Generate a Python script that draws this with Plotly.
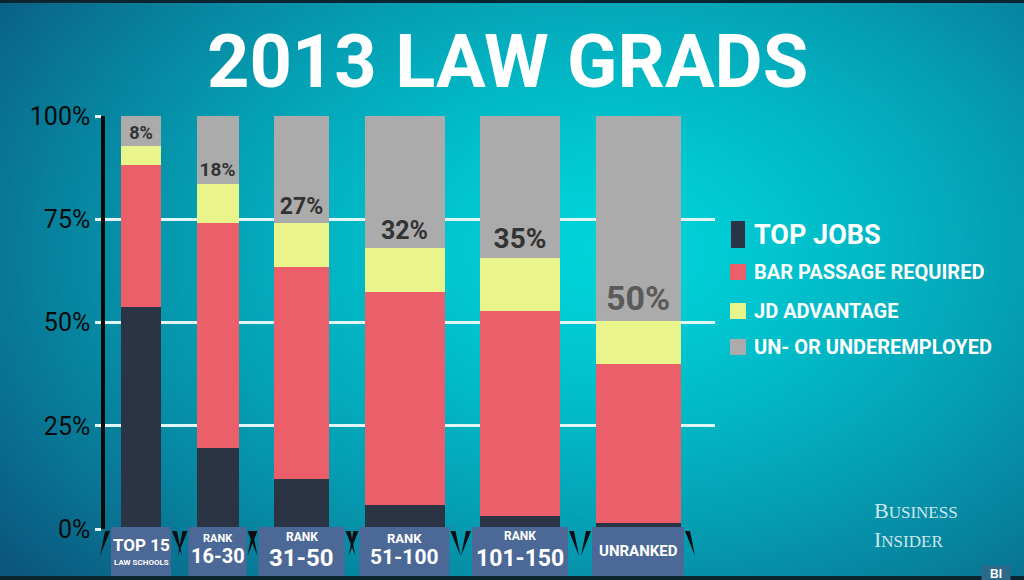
import base64, struct, zlib
import numpy as np
import plotly.graph_objects as go

# ---------------- data ----------------
categories = ["TOP 15", "RANK 16-30", "RANK 31-50", "RANK 51-100", "RANK 101-150", "UNRANKED"]
label_line1 = ["TOP 15", "RANK", "RANK", "RANK", "RANK", "UNRANKED"]
label_line2 = ["LAW SCHOOLS", "16-30", "31-50", "51-100", "101-150", ""]
series_names = ["TOP JOBS", "BAR PASSAGE REQUIRED", "JD ADVANTAGE", "UN- OR UNDEREMPLOYED"]
top_jobs = [53.7, 19.6, 12.1, 5.8, 3.1, 1.5]
bar_passage = [34.4, 54.5, 51.3, 51.6, 49.7, 38.5]
jd_advantage = [4.6, 9.4, 10.7, 10.6, 12.8, 10.4]
un_underemployed = [7.3, 16.5, 25.9, 32.0, 34.4, 49.6]
un_labels = ["8%", "18%", "27%", "32%", "35%", "50%"]
y_ticks = [0, 25, 50, 75, 100]
y_tick_text = ["0%", "25%", "50%", "75%", "100%"]

# ---------------- styles / layout ----------------
W, H = 1024, 580
ML, MR, MT, MB = 105, 309, 116, 51
PW, PH = W - ML - MR, H - MT - MB
series_colors = ["#2b3444", "#eb5f6a", "#e9f58a", "#ababab"]
bar_widths = [40, 42, 55, 80, 80, 85]      # bar widths in x-axis units
bar_gap = 35.5
x_start = 16
label_sizes = [18, 19, 23, 25, 28, 34]
label_colors = ["#333333"] * 5 + ["#5a5a5a"]
box_widths = [60, 58, 86, 90, 96, 92]
l1_sizes = [17, 11, 12, 13, 12, 15]
l2_sizes = [8, 20, 24, 21, 23, 0]
l1_ypx = [545, 538, 537, 538, 536, 551]
l2_ypx = [562, 556, 558, 557, 558, 0]
FONT = "Roboto, Liberation Sans, sans-serif"

# bar centres follow from the widths and a constant gap (equal spacing between bars)
centers = []
pos = x_start
for w in bar_widths:
    centers.append(pos + w / 2)
    pos += w + bar_gap

# ---------------- background gradient (PNG data URI) ----------------
def make_png(arr):
    h, w, _ = arr.shape
    raw = b"".join(b"\x00" + arr[r].tobytes() for r in range(h))
    def chunk(t, d):
        c = struct.pack(">I", len(d)) + t + d
        return c + struct.pack(">I", zlib.crc32(t + d) & 0xFFFFFFFF)
    return (b"\x89PNG\r\n\x1a\n" + chunk(b"IHDR", struct.pack(">IIBBBBB", w, h, 8, 2, 0, 0, 0))
            + chunk(b"IDAT", zlib.compress(raw, 9)) + chunk(b"IEND", b""))

gw, gh = 256, 145
xs = np.linspace(0, W, gw)[None, :]
ys = np.linspace(0, H, gh)[:, None]
d = np.sqrt(((xs - 610) / 660.0) ** 2 + ((ys - 250) / 450.0) ** 2)
t = np.clip(d, 0, 1.15) ** 1.4
inner = np.array([0, 212, 218], float)
outer = np.array([10, 110, 143], float)
img = inner[None, None, :] * (1 - t[..., None]) + outer[None, None, :] * t[..., None]
img = np.clip(img, 0, 255).astype(np.uint8)
bg_uri = "data:image/png;base64," + base64.b64encode(make_png(img)).decode()

# ---------------- figure ----------------
fig = go.Figure()
values = [top_jobs, bar_passage, jd_advantage, un_underemployed]
for k, (nm, vals, col) in enumerate(zip(series_names, values, series_colors)):
    kw = {}
    if k == 3:
        kw = dict(text=un_labels, textposition="inside", insidetextanchor="start",
                  textangle=0, constraintext="none",
                  textfont=dict(family=FONT, size=label_sizes, color=label_colors, weight="bold"))
    fig.add_trace(go.Bar(x=centers, y=vals, width=bar_widths, name=nm,
                         marker=dict(color=col, line=dict(width=0)),
                         customdata=categories, hovertemplate="%{customdata}: %{y}%<extra>" + nm + "</extra>",
                         **kw))

def px_x(p):
    return (p - ML) / PW

def px_y(p):
    return (H - MB - p) / PH

def data_to_px(xv):
    return ML + xv / PW * PW

annotations = []
shapes = []
# title
annotations.append(dict(text="2013 LAW GRADS", xref="paper", yref="paper",
                        x=px_x(507), y=px_y(62), xanchor="center", yanchor="middle",
                        showarrow=False, font=dict(family=FONT, size=74, color="white", weight="bold")))

# category label boxes (rect + one or two text lines)
box_l = [data_to_px(c) - bw / 2 for c, bw in zip(centers, box_widths)]
box_r = [data_to_px(c) + bw / 2 for c, bw in zip(centers, box_widths)]
for i, c in enumerate(categories):
    shapes.append(dict(type="rect", xref="paper", yref="paper", x0=px_x(box_l[i]), x1=px_x(box_r[i]),
                       y0=px_y(576), y1=px_y(527), fillcolor="#4b6896", line_width=0, layer="above"))
    annotations.append(dict(text=label_line1[i], x=centers[i], xref="x", yref="paper", y=px_y(l1_ypx[i]),
                            xanchor="center", yanchor="middle", showarrow=False,
                            font=dict(family=FONT, size=l1_sizes[i], color="white", weight="bold")))
    if label_line2[i]:
        annotations.append(dict(text=label_line2[i], x=centers[i], xref="x", yref="paper", y=px_y(l2_ypx[i]),
                                xanchor="center", yanchor="middle", showarrow=False,
                                font=dict(family=FONT, size=l2_sizes[i], color="white", weight="bold")))

# ribbon fold wedges beside the label boxes
def wedge(xa, direction):
    x_top0, x_top1 = xa, xa + 5 * direction
    x_bot = xa + 10 * direction
    return dict(type="path", xref="paper", yref="paper",
                path=f"M {px_x(x_top0)},{px_y(531)} L {px_x(x_top1)},{px_y(531)} L {px_x(x_bot)},{px_y(556)} Z",
                fillcolor="#0d0d12", line_width=0, layer="above")
for i in range(len(box_l)):
    shapes.append(wedge(box_l[i] - 1, -1))
    shapes.append(wedge(box_r[i] + 1, 1))

# manual legend (text annotations + colour swatches)
legend_y = [235, 272, 311, 347]
legend_sizes = [27, 20, 20, 20]
for k, nm in enumerate(series_names):
    annotations.append(dict(text=nm, xref="paper", yref="paper", x=px_x(752), y=px_y(legend_y[k]),
                            xanchor="left", yanchor="middle", showarrow=False,
                            font=dict(family=FONT, size=legend_sizes[k], color="white", weight="bold")))
    if k == 0:
        x0, x1, y0, y1 = 731, 745, 221, 248
    else:
        x0, x1, y0, y1 = 730, 746, legend_y[k] - 8, legend_y[k] + 8
    shapes.append(dict(type="rect", xref="paper", yref="paper", x0=px_x(x0), x1=px_x(x1),
                       y0=px_y(y1), y1=px_y(y0), fillcolor=series_colors[k], line_width=0))

# logo
annotations.append(dict(text="B<span style='font-size:17px'>USINESS</span><br>I<span style='font-size:17px'>NSIDER</span>",
                        xref="paper", yref="paper", x=px_x(872), y=px_y(525),
                        xanchor="left", yanchor="middle", showarrow=False, align="left",
                        font=dict(family="Liberation Serif, DejaVu Serif, serif", size=22, color="#cfe6ec")))
annotations.append(dict(text="BI", xref="paper", yref="paper", x=px_x(996), y=px_y(574),
                        xanchor="center", yanchor="middle", showarrow=False, bgcolor="#2a6a88",
                        width=26, height=14,
                        font=dict(family="Liberation Sans", size=12, color="white", weight="bold")))

# thin dark frame strips at top and bottom
shapes += [
    dict(type="rect", xref="paper", yref="paper", x0=px_x(0), x1=px_x(W),
         y0=px_y(580), y1=px_y(576), fillcolor="#0a2530", line_width=0, layer="above"),
    dict(type="rect", xref="paper", yref="paper", x0=px_x(0), x1=px_x(W),
         y0=px_y(3), y1=px_y(0), fillcolor="#0a2530", line_width=0, layer="above"),
]

fig.update_layout(
    width=W, height=H, margin=dict(l=ML, r=MR, t=MT, b=MB, pad=0, autoexpand=False),
    paper_bgcolor="#089aae", plot_bgcolor="rgba(0,0,0,0)",
    barmode="stack", showlegend=False,
    images=[dict(source=bg_uri, xref="paper", yref="paper", x=px_x(0), y=px_y(0),
                 sizex=W / PW, sizey=H / PH, xanchor="left", yanchor="top",
                 sizing="stretch", layer="below")],
    xaxis=dict(range=[0, PW], showticklabels=False, showgrid=False, zeroline=False,
               showline=False, ticks="", fixedrange=True),
    yaxis=dict(range=[0, 100], tickvals=y_ticks, ticktext=y_tick_text,
               showgrid=True, gridcolor="#dff5f8", gridwidth=2.5, zeroline=False,
               showline=True, linecolor="#0a0a0a", linewidth=3.5,
               ticks="outside", ticklen=6, tickwidth=2.5, tickcolor="#dff5f8",
               tickfont=dict(family=FONT, size=25, color="#0a0a0a")),
    annotations=annotations, shapes=shapes,
)

fig.write_html("out.html")
